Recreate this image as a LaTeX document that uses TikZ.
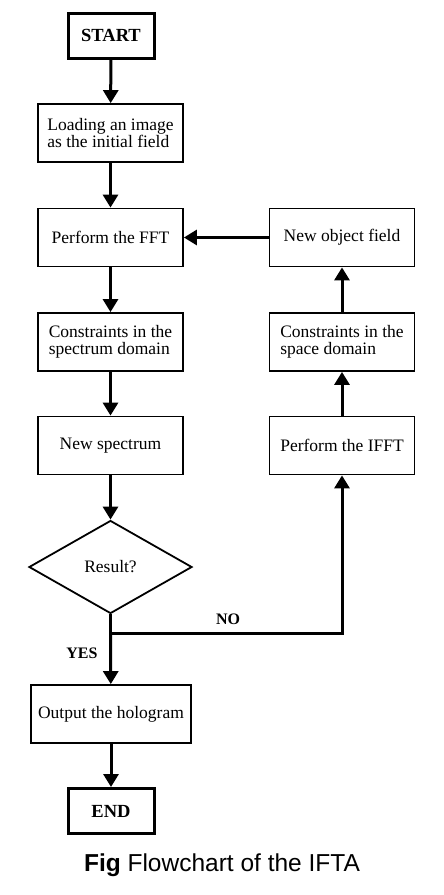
\documentclass[tikz,border=0pt]{standalone}
\usepackage{fontspec}
\setmainfont{Liberation Serif}
\newfontfamily\capfont{Liberation Sans}
\usetikzlibrary{arrows.meta,shapes.geometric}

\tikzset{
  box/.style={draw, line width=1.8pt, minimum width=145pt, minimum height=58pt,
    align=left, inner sep=2pt, font=\fontsize{17.5}{17.5}\selectfont},
  termbox/.style={draw, line width=3pt, minimum width=86pt, minimum height=45pt,
    font=\bfseries\fontsize{18.5}{18.5}\selectfont},
  decide/.style={diamond, draw, line width=1.8pt, minimum width=163pt, minimum height=93pt,
    aspect=1.75, inner sep=0pt, font=\fontsize{17.5}{17.5}\selectfont},
  flow/.style={line width=3pt, -{Triangle[width=15pt,length=13pt]}},
  yesno/.style={font=\bfseries\fontsize{16}{16}\selectfont}
}

\begin{document}
\begin{tikzpicture}[x=1pt,y=-1pt]
	\useasboundingbox (0,0) rectangle (444,895);

            % main column
            \node[termbox] (start) at (111,35.5) {START};
            \node[box] (load) at (110.5,133) {Loading an image\\as the initial field};
            \node[box] (fft) at (110.5,237.5) {Perform the FFT};
            \node[box] (spec) at (110.5,342) {Constraints in the\\spectrum domain};
            \node[box] (newspec) at (110.5,445.5) {New spectrum};
            \node[decide] (result) at (110.5,567) {Result?};
            \node[box, minimum width=160pt] (output) at (111,714) {Output the hologram};
            \node[termbox] (stop) at (111,811) {END};

            % loop back
            \node[box] (ifft) at (342,445.5) {Perform the IFFT};
            \node[box] (space) at (342,342) {Constraints in the\\space domain};
            \node[box] (objfield) at (342,237.5) {New object field};
            \coordinate (split) at (110.5,633);

            \draw[flow] (start) -- (load);
            \draw[flow] (load) -- (fft);
            \draw[flow] (fft) -- (spec);
            \draw[flow] (spec) -- (newspec);
            \draw[flow] (newspec) -- (result);
            \draw[line width=3pt] (result.south) -- (split);
            \draw[flow] (split) -- (output);
            \draw[flow] (output) -- (stop);

            \draw[flow] (split) -| (ifft);
            \draw[flow] (ifft) -- (space);
            \draw[flow] (space) -- (objfield);
            \draw[flow] (objfield) -- (fft);

            \node[yesno] (yes) at (82,653) {YES};
            \node[yesno] (no) at (228,619) {NO};

          \node[font=\capfont\fontsize{24.5}{24.5}\selectfont] (caption) at (222,865) {\textbf{Fig} Flowchart of the IFTA};
        \end{tikzpicture}
\end{document}
